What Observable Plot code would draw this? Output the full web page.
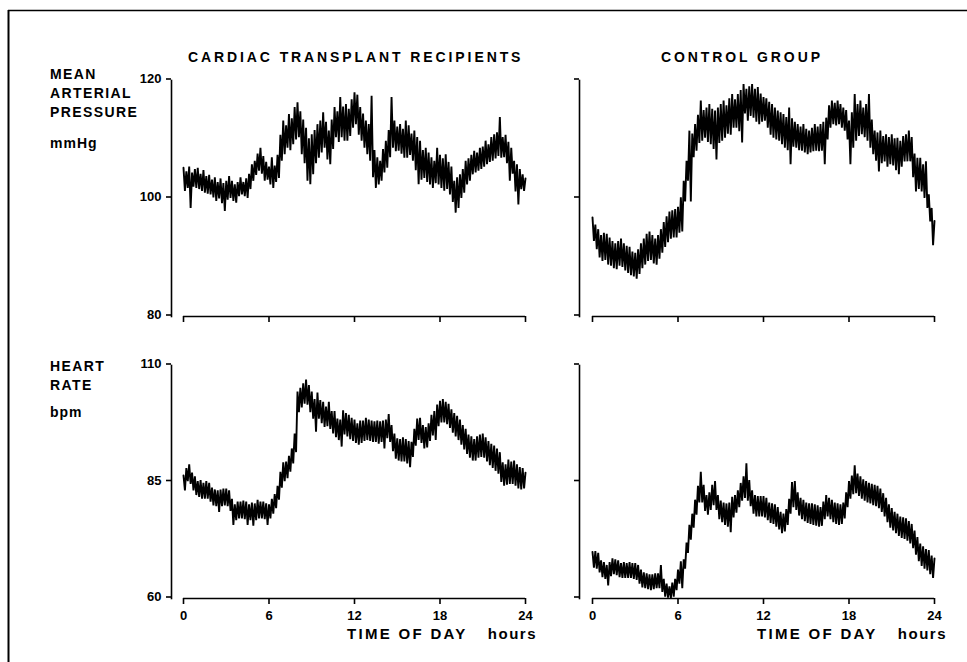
<!DOCTYPE html>
<html>
<head>
<meta charset="utf-8">
<script src="https://cdn.jsdelivr.net/npm/d3@7"></script>
<script src="https://cdn.jsdelivr.net/npm/@observablehq/plot@0.6"></script>
<style>
  html, body { margin: 0; padding: 0; background: #fff; }
  #chart { position: relative; width: 967px; height: 662px; overflow: hidden; background: #fff; }
  #chart svg { position: absolute; }
</style>
</head>
<body>
<div id="chart"></div>
<script>
// ---- data ----
// Each trace is a dense noisy record; it is given as the tops of the trace
// (at 0, 0.2, 0.4 ... 24 h) and the bottoms of the trace (at 0.1, 0.3 ... 23.9 h).
const step = 0.1;
const xTicks = [0, 6, 12, 18, 24];
const mapTicks = [80, 100, 120];
const hrTicks = [60, 85, 110];

const transplantMAP_top = [
  105.2, 104.6, 105.4, 104.4, 105.0, 105.2, 104.2, 104.8, 103.8, 104.0,
  103.2, 103.6, 102.8, 103.4, 102.6, 103.0, 103.8, 103.0, 102.4, 102.8,
  103.6, 102.8, 103.4, 104.2, 105.8, 106.4, 107.6, 108.6, 107.2, 106.2,
  105.4, 107.0, 105.6, 107.4, 110.8, 113.2, 112.4, 114.3, 113.6, 115.5,
  116.3, 114.8, 113.4, 112.0, 110.2, 110.9, 111.6, 112.6, 113.2, 114.6,
  113.0, 111.5, 113.4, 115.5, 114.8, 117.2, 115.6, 116.0, 115.2, 116.8,
  118.0, 117.6, 115.5, 114.4, 113.2, 112.6, 117.4, 108.2, 107.0, 106.4,
  108.4, 109.8, 111.6, 117.2, 113.2, 112.2, 112.6, 111.8, 113.2, 112.4,
  111.0, 111.5, 110.4, 109.8, 108.2, 108.6, 107.8, 107.0, 106.4, 108.6,
  107.4, 106.8, 107.5, 106.2, 105.4, 103.0, 103.6, 104.1, 105.0, 106.4,
  106.8, 107.4, 108.1, 107.8, 108.6, 108.8, 109.8, 109.2, 110.4, 110.9,
  111.2, 113.8, 110.4, 110.8, 109.6, 108.6, 106.4, 105.8, 105.0, 104.1,
  103.4
];
const transplantMAP_bottom = [
  101.3, 101.8, 98.4, 102.0, 101.8, 101.6, 101.3, 101.0, 100.8, 100.7,
  100.2, 99.6, 100.0, 99.2, 97.9, 99.8, 100.1, 99.6, 99.3, 100.4,
  100.7, 100.4, 100.1, 101.6, 103.0, 104.0, 104.7, 104.2, 103.0, 103.2,
  102.4, 101.8, 102.8, 103.5, 106.4, 107.5, 108.6, 108.2, 109.2, 110.0,
  110.4, 107.5, 106.0, 103.0, 102.4, 104.1, 106.0, 106.9, 107.8, 108.6,
  106.6, 105.8, 108.4, 110.4, 109.6, 110.4, 109.8, 109.8, 110.6, 112.0,
  112.6, 110.8, 109.8, 108.6, 107.5, 106.4, 103.6, 101.8, 102.4, 103.0,
  104.4, 105.2, 107.0, 108.6, 108.0, 108.1, 107.6, 106.9, 106.9, 107.4,
  106.4, 104.8, 102.4, 103.2, 103.5, 102.8, 102.4, 101.8, 102.6, 102.4,
  101.8, 101.3, 101.6, 100.7, 99.4, 97.6, 98.4, 100.1, 101.0, 102.4,
  103.0, 104.1, 104.4, 104.7, 105.0, 105.4, 105.8, 106.2, 106.4, 106.8,
  107.2, 106.9, 107.0, 106.0, 103.0, 104.2, 101.2, 99.0, 101.6, 101.3
];

const controlMAP_top = [
  96.8, 95.6, 94.8, 93.8, 94.2, 94.0, 93.4, 92.8, 92.4, 92.8,
  93.2, 92.4, 92.0, 91.8, 91.0, 90.8, 91.4, 92.4, 93.2, 94.0,
  94.4, 93.8, 93.2, 93.8, 94.8, 96.0, 97.0, 97.8, 98.0, 98.2,
  98.6, 100.2, 103.0, 106.4, 111.5, 111.0, 112.6, 114.2, 116.6, 115.0,
  115.4, 116.0, 115.2, 114.9, 115.4, 116.0, 116.6, 115.8, 117.0, 117.7,
  116.8, 117.7, 118.4, 119.4, 118.6, 119.0, 119.4, 118.6, 118.9, 117.8,
  117.2, 117.0, 116.4, 116.0, 115.4, 114.9, 114.6, 114.3, 113.8, 115.4,
  113.6, 113.0, 112.6, 112.2, 112.6, 111.8, 111.5, 112.0, 112.6, 112.2,
  112.6, 113.0, 113.7, 115.8, 116.6, 116.2, 116.6, 116.0, 115.4, 115.0,
  113.2, 114.6, 117.7, 116.0, 116.6, 115.4, 116.0, 117.7, 113.4, 111.5,
  111.2, 111.5, 110.6, 110.9, 110.4, 110.9, 110.2, 110.3, 109.8, 110.6,
  110.9, 111.5, 110.4, 107.6, 106.9, 106.9, 105.8, 106.3, 100.7, 98.4,
  96.2
];
const controlMAP_bottom = [
  92.8, 91.4, 90.0, 89.4, 89.6, 88.8, 88.6, 88.2, 88.0, 88.6,
  88.4, 87.8, 87.4, 87.0, 86.8, 86.4, 87.2, 88.2, 88.8, 89.4,
  89.6, 89.0, 88.8, 89.8, 90.8, 91.8, 92.6, 93.2, 93.4, 93.4,
  94.2, 94.4, 99.5, 103.0, 99.5, 107.0, 108.1, 109.4, 109.8, 110.3,
  109.6, 109.2, 108.4, 106.6, 109.4, 109.8, 110.3, 111.0, 110.8, 112.0,
  112.0, 111.4, 109.5, 114.4, 113.2, 114.0, 113.7, 113.0, 112.6, 113.0,
  113.2, 112.0, 110.8, 110.3, 110.0, 109.8, 109.2, 108.6, 108.2, 105.8,
  108.8, 108.6, 108.2, 108.1, 107.8, 107.5, 107.8, 108.0, 108.1, 108.0,
  108.1, 105.8, 110.0, 112.0, 112.6, 112.4, 112.6, 112.0, 111.5, 110.0,
  105.8, 108.6, 109.8, 110.6, 110.9, 110.4, 109.8, 108.6, 107.5, 106.4,
  104.6, 106.0, 106.3, 105.4, 105.8, 105.6, 104.8, 104.1, 105.4, 106.3,
  106.3, 106.3, 103.6, 101.2, 101.6, 101.2, 100.1, 98.4, 96.1, 92.1
];

const transplantHR_top = [
  86.4, 88.0, 88.8, 87.0, 86.2, 85.2, 85.4, 84.8, 85.2, 84.8,
  83.8, 83.4, 83.2, 83.4, 83.6, 83.6, 83.2, 81.4, 80.2, 80.8,
  80.8, 81.0, 80.8, 80.2, 80.6, 80.4, 81.2, 80.8, 80.8, 80.4,
  80.2, 81.4, 82.4, 84.2, 87.2, 89.2, 89.4, 90.6, 92.2, 95.4,
  104.4, 105.2, 106.2, 107.0, 105.8, 104.4, 102.8, 104.2, 102.6, 102.2,
  101.2, 102.2, 100.2, 100.2, 98.6, 98.4, 100.4, 99.8, 99.4, 98.8,
  98.4, 97.6, 98.2, 98.2, 98.8, 98.4, 98.2, 98.0, 98.2, 98.0,
  98.2, 98.4, 99.6, 97.2, 95.4, 94.4, 94.2, 94.6, 94.2, 93.8,
  93.6, 96.4, 98.6, 98.8, 97.2, 96.8, 97.6, 99.4, 100.2, 101.6,
  102.4, 102.8, 102.2, 101.8, 100.6, 99.8, 99.2, 98.4, 97.2, 96.4,
  95.2, 94.8, 94.2, 94.8, 95.2, 95.4, 94.6, 93.8, 93.2, 92.8,
  92.2, 91.4, 89.2, 88.8, 89.8, 89.4, 89.6, 88.8, 88.2, 88.0,
  87.0
];
const transplantHR_bottom = [
  83.2, 85.2, 84.6, 83.2, 82.2, 81.8, 81.4, 81.4, 81.4, 80.8,
  80.0, 79.8, 78.6, 79.8, 80.0, 79.8, 78.8, 75.8, 76.8, 77.2,
  77.2, 77.0, 75.8, 76.8, 75.6, 76.8, 77.2, 77.2, 77.0, 75.8,
  77.2, 78.2, 79.4, 81.2, 83.8, 85.2, 85.8, 87.2, 89.0, 91.4,
  100.0, 101.0, 101.8, 101.6, 100.0, 98.6, 95.8, 98.6, 97.6, 96.8,
  97.0, 96.4, 95.4, 94.6, 94.0, 92.6, 95.2, 94.8, 94.2, 93.8,
  93.4, 93.0, 93.4, 93.8, 94.0, 93.8, 93.6, 93.6, 93.2, 93.6,
  92.2, 94.4, 93.6, 91.6, 90.0, 89.6, 89.4, 89.4, 89.0, 88.2,
  90.4, 92.8, 94.0, 93.4, 92.2, 92.4, 93.8, 95.0, 94.0, 97.0,
  97.8, 97.8, 97.4, 96.6, 95.6, 94.8, 94.0, 93.0, 92.0, 91.0,
  90.2, 89.6, 89.6, 90.2, 90.4, 90.2, 89.4, 88.6, 88.0, 87.4,
  86.8, 85.0, 84.2, 84.4, 84.6, 84.6, 84.2, 83.6, 83.4, 83.6
];

const controlHR_top = [
  70.0, 70.2, 69.8, 68.2, 67.8, 67.2, 67.8, 68.6, 68.4, 68.2,
  67.6, 67.8, 67.6, 67.8, 67.6, 67.6, 67.2, 66.2, 65.6, 65.4,
  65.2, 65.2, 65.4, 65.4, 67.2, 64.2, 63.2, 62.6, 63.4, 64.2,
  66.2, 68.0, 68.4, 72.0, 75.8, 78.2, 81.2, 84.2, 87.2, 84.4,
  82.2, 82.8, 84.4, 85.2, 82.2, 81.0, 80.6, 80.4, 80.6, 81.8,
  82.2, 83.2, 84.8, 86.2, 89.0, 85.4, 83.2, 82.2, 82.0, 82.0,
  82.0, 81.6, 80.6, 80.4, 80.2, 79.6, 78.6, 78.2, 79.2, 81.4,
  85.0, 85.2, 82.8, 81.6, 81.2, 80.6, 80.4, 80.4, 80.2, 80.0,
  79.6, 80.8, 82.2, 81.6, 81.2, 80.6, 80.4, 80.2, 80.6, 82.8,
  85.2, 86.4, 88.6, 86.8, 86.2, 85.6, 85.2, 84.8, 84.6, 84.4,
  84.2, 83.6, 82.6, 81.6, 80.2, 79.4, 78.6, 78.2, 77.6, 77.4,
  77.2, 76.6, 76.0, 74.6, 73.2, 71.8, 71.2, 70.6, 70.4, 69.2,
  68.6
];
const controlHR_bottom = [
  66.6, 66.4, 65.6, 64.6, 64.2, 62.8, 64.8, 65.2, 65.0, 64.6,
  64.4, 64.4, 64.4, 64.4, 64.2, 64.0, 63.2, 62.4, 62.2, 62.0,
  61.8, 62.0, 62.2, 62.2, 61.4, 60.4, 60.2, 60.1, 60.4, 61.8,
  63.2, 62.2, 66.4, 69.8, 72.6, 75.2, 78.0, 80.6, 80.6, 78.8,
  78.0, 79.0, 80.0, 79.0, 77.0, 76.4, 75.8, 75.4, 74.2, 77.4,
  78.4, 79.6, 81.0, 81.6, 81.0, 79.8, 78.2, 77.6, 77.6, 77.6,
  77.4, 76.8, 76.2, 76.0, 75.4, 74.8, 74.0, 74.4, 75.8, 78.2,
  79.6, 79.0, 77.8, 77.0, 76.6, 76.2, 76.0, 75.8, 75.6, 75.4,
  75.6, 77.0, 77.6, 77.0, 76.4, 76.0, 75.8, 76.0, 77.2, 79.6,
  81.4, 82.4, 82.6, 82.0, 81.4, 81.0, 80.6, 80.4, 80.0, 79.8,
  79.4, 78.6, 77.6, 76.4, 75.2, 74.6, 74.0, 73.4, 73.0, 72.8,
  72.4, 71.8, 70.8, 69.4, 68.0, 67.0, 66.4, 66.0, 65.2, 64.4
];

const groupTitles = ["CARDIAC TRANSPLANT RECIPIENTS", "CONTROL GROUP"];
const mapLabel = ["MEAN", "ARTERIAL", "PRESSURE"];
const mapUnit = "mmHg";
const hrLabel = ["HEART", "RATE"];
const hrUnit = "bpm";
const xLabel = "TIME OF DAY";
const xUnit = "hours";

// ---- drawing ----
const chart = document.getElementById("chart");
const FONT = "'Liberation Sans', Arial, Helvetica, sans-serif";

// interleave tops and bottoms into one time-ordered record
function record(tops, bottoms) {
  const out = [];
  tops.forEach((t, i) => {
    out.push(t);
    if (i < bottoms.length) out.push(bottoms[i]);
  });
  return out.map((v, i) => ({hour: i * step, value: v}));
}

function panel(rows, yTicks, o) {
  const xDomain = [xTicks[0], xTicks[xTicks.length - 1]];
  const yDomain = [yTicks[0], yTicks[yTicks.length - 1]];
  const svg = Plot.plot({
    width: o.width, height: o.height,
    marginLeft: o.ml, marginRight: o.mr, marginTop: o.mt, marginBottom: o.mb,
    x: {domain: xDomain, insetLeft: o.inset},
    y: {domain: yDomain},
    style: {fontFamily: FONT, fontSize: "13px", fontWeight: "bold", color: "#000", background: "transparent", overflow: "visible"},
    marks: [
      Plot.frame({anchor: "left", stroke: "#000", strokeWidth: 1.6}),
      Plot.axisY(yTicks, {tickSize: 5, tickPadding: 5, strokeWidth: 1.6, dy: -1.5,
        tickFormat: o.yLabels ? (d => String(d)) : (() => ""), label: null}),
      Plot.ruleY([yDomain[0]], {x1: xDomain[0], x2: xDomain[1], stroke: "#000", strokeWidth: 1.6}),
      Plot.axisX(xTicks, {tickSize: 6, tickPadding: 6, strokeWidth: 1.6,
        tickFormat: o.xLabels ? (d => String(d)) : (() => ""), label: null}),
      Plot.line(rows, {x: "hour", y: "value", stroke: "#000", strokeWidth: 1.9, strokeLinejoin: "miter", strokeMiterlimit: 2})
    ]
  });
  svg.style.left = o.left + "px";
  svg.style.top = o.top + "px";
  chart.appendChild(svg);
}

const leftCol = {left: 100, width: 440, ml: 71, mr: 15, inset: 12};
const rightCol = {left: 540, width: 420, ml: 39, mr: 26, inset: 13};
const topRow = {top: 70, height: 260, mt: 10, mb: 14};
const botRow = {top: 355, height: 279, mt: 10, mb: 36};

panel(record(transplantMAP_top, transplantMAP_bottom), mapTicks, {...leftCol, ...topRow, yLabels: true, xLabels: false});
panel(record(controlMAP_top, controlMAP_bottom), mapTicks, {...rightCol, ...topRow, yLabels: false, xLabels: false});
panel(record(transplantHR_top, transplantHR_bottom), hrTicks, {...leftCol, ...botRow, yLabels: true, xLabels: true});
panel(record(controlHR_top, controlHR_bottom), hrTicks, {...rightCol, ...botRow, yLabels: false, xLabels: true});

// ---- annotation overlay ----
const ov = d3.select(chart).append("svg")
  .attr("width", 967).attr("height", 662)
  .style("left", "0px").style("top", "0px")
  .style("font-family", FONT).style("font-weight", "bold").style("fill", "#000");

ov.append("line").attr("x1", 8.5).attr("x2", 8.5).attr("y1", 10).attr("y2", 662)
  .attr("stroke", "#000").attr("stroke-width", 2);
ov.append("line").attr("x1", 8).attr("x2", 967).attr("y1", 10.5).attr("y2", 10.5)
  .attr("stroke", "#000").attr("stroke-width", 1.6);

function label(txt, x, y, opts = {}) {
  ov.append("text").attr("x", x).attr("y", y)
    .attr("text-anchor", opts.anchor || "start")
    .style("font-size", (opts.size || 14) + "px")
    .style("letter-spacing", (opts.ls ?? 1.4) + "px")
    .text(txt);
}

label(groupTitles[0], 188, 62, {ls: 2.9});
label(groupTitles[1], 661, 62, {ls: 2.9});
mapLabel.forEach((t, i) => label(t, 50, 79 + i * 19));
label(mapUnit, 50, 148, {ls: 1});
hrLabel.forEach((t, i) => label(t, 50, 371 + i * 19));
label(hrUnit, 50, 417, {ls: 1});
label(xLabel, 347, 639, {size: 15, ls: 2.3});
label(xUnit, 537, 639, {size: 15, ls: 1.5, anchor: "end"});
label(xLabel, 757, 639, {size: 15, ls: 2.3});
label(xUnit, 947, 639, {size: 15, ls: 1.5, anchor: "end"});
</script>
</body>
</html>
